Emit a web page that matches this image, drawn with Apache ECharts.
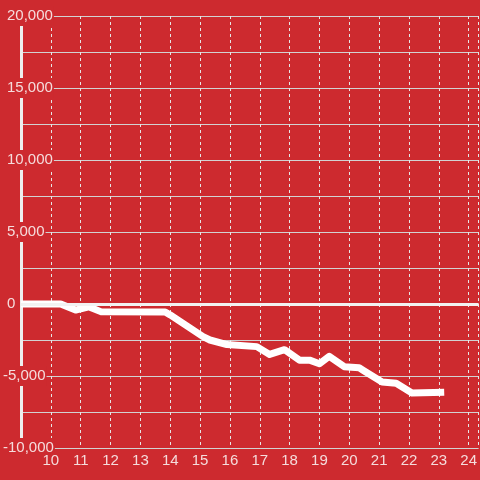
<!DOCTYPE html>
<html>
<head>
<meta charset="utf-8">
<script src="https://cdn.jsdelivr.net/npm/echarts@6/dist/echarts.min.js"></script>
<style>
html,body{margin:0;padding:0;background:#cd2a2f;}
#c{width:480px;height:480px;}
</style>
</head>
<body>
<div id="c"></div>
<script>
var hours  = [9.0, 10.33, 10.83, 11.27, 11.67, 13.83, 14.0, 15.1, 15.33, 15.9, 16.9, 17.33, 17.83, 18.33, 18.67, 19.0, 19.33, 19.83, 20.33, 20.5, 21.1, 21.57, 22.1, 23.18];
var values = [0, 0, -420, -190, -530, -550, -760, -2270, -2500, -2820, -2960, -3500, -3170, -3900, -3900, -4150, -3630, -4350, -4430, -4650, -5420, -5510, -6180, -6120];
var xTicks = [10, 11, 12, 13, 14, 15, 16, 17, 18, 19, 20, 21, 22, 23, 24];
var yTicks = [-10000, -5000, 0, 5000, 10000, 15000, 20000];

var pts = hours.map(function (h, i) { return [h, values[i]]; });
var red = '#cd2a2f';
var labelColor = '#f5dcdc';

var chart = echarts.init(document.getElementById('c'), null, {renderer: 'canvas'});
chart.setOption({
  backgroundColor: red,
  animation: false,
  grid: {left: 20, right: 0, top: 16, bottom: 32, containLabel: false},
  xAxis: {
    type: 'value',
    min: 9,
    max: 9 + 460 / 30,
    interval: 1,
    axisLine: {show: false},
    axisTick: {show: false},
    axisLabel: {
      showMinLabel: false,
      showMaxLabel: false,
      color: labelColor,
      fontSize: 15,
      fontFamily: 'Liberation Sans, Arial, sans-serif',
      margin: 5,
      formatter: function (v) { return xTicks.indexOf(v) >= 0 ? String(v) : ''; }
    },
    splitLine: {show: true, lineStyle: {color: '#e6e6e6', width: 1, type: [3, 3]}}
  },
  yAxis: {
    type: 'value',
    min: -10000,
    max: 20000,
    interval: 5000,
    axisLine: {show: true, onZero: false, lineStyle: {color: '#eeeeee', width: 3}},
    axisTick: {show: false},
    minorTick: {show: false, splitNumber: 2},
    minorSplitLine: {show: true, lineStyle: {color: '#d2d2d2', width: 1}},
    splitLine: {show: true, lineStyle: {color: '#d2d2d2', width: 1}},
    axisLabel: {
      align: 'left',
      margin: 18,
      color: labelColor,
      fontSize: 15,
      fontFamily: 'Liberation Sans, Arial, sans-serif',
      backgroundColor: red,
      padding: [1, 1, 1, 0],
      lineHeight: 18,
      formatter: function (v) {
        if (yTicks.indexOf(v) < 0) return '';
        var s = Math.abs(v).toLocaleString('en-US');
        return v < 0 ? '{n|-' + s + '}' : '{p|' + s + '}';
      },
      rich: {
        n: {color: labelColor, fontSize: 15, fontFamily: 'Liberation Sans, Arial, sans-serif', lineHeight: 18},
        p: {color: labelColor, fontSize: 15, fontFamily: 'Liberation Sans, Arial, sans-serif', lineHeight: 18, padding: [0, 0, 0, 4]}
      }
    }
  },
  series: [{
    type: 'line',
    data: pts,
    symbol: 'none',
    lineStyle: {color: '#ffffff', width: 7, cap: 'butt', join: 'round'},
    z: 3,
    markLine: {
      silent: true,
      symbol: ['none', 'none'],
      label: {show: false},
      lineStyle: {color: '#f2f2f2', width: 3, type: 'solid'},
      data: [{yAxis: 0}]
    }
  }]
});
</script>
</body>
</html>
